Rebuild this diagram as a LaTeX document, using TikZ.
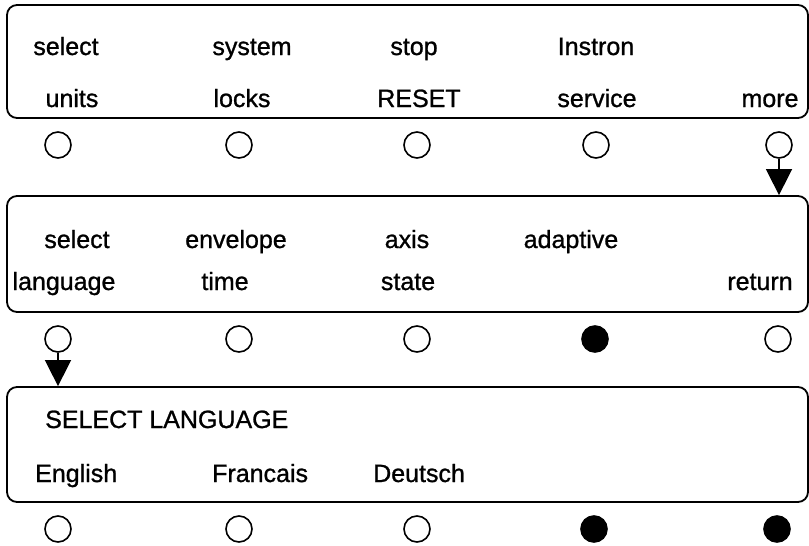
\documentclass[tikz,border=0pt]{standalone}
\usepackage{fontspec}
\setmainfont[FakeBold=1.2,AutoFakeBold=1.2]{Liberation Sans}
\newfontfamily\scanfont[FakeBold=1.0]{Liberation Sans}
\usetikzlibrary{arrows.meta}
\begin{document}
\begin{tikzpicture}[x=1pt,y=-1pt,
  panel/.style={draw,line width=1.8pt,rounded corners=10pt,minimum width=801pt,inner sep=0pt},
  lbl/.style={anchor=base,inner sep=0pt,font=\scanfont\fontsize{25}{30}\selectfont},
  lblw/.style={anchor=base west,inner sep=0pt,font=\scanfont\fontsize{25}{30}\selectfont},
  key/.style={draw,circle,line width=1.6pt,minimum size=26pt,inner sep=0pt},
  keyon/.style={key,fill=black},
  flow/.style={line width=1.6pt,-{Triangle[width=26pt,length=26pt]}}]
\useasboundingbox (0,0) rectangle (809,546);
% panels
\node[panel,minimum height=113pt] (p1) at (407.5,61.5) {};
\node[panel,minimum height=116pt] (p2) at (407.5,254) {};
\node[panel,minimum height=115pt] (p3) at (407.5,444.5) {};
% panel 1 texts
\node[lbl] (t11) at (66,55) {select};
\node[lbl] (t12) at (252,55) {system};
\node[lbl] (t13) at (414,55) {stop};
\node[lbl] (t14) at (596,55) {Instron};
\node[lbl] (u11) at (72,107) {units};
\node[lbl] (u12) at (242,107) {locks};
\node[lbl] (u13) at (419,107) {RESET};
\node[lbl] (u14) at (597,107) {service};
\node[lbl] (u15) at (770,107) {more};
% panel 2 texts
\node[lbl] (t21) at (77,248) {select};
\node[lbl] (t22) at (236,248) {envelope};
\node[lbl] (t23) at (407,248) {axis};
\node[lbl] (t24) at (571,248) {adaptive};
\node[lbl] (u21) at (64,290) {language};
\node[lbl] (u22) at (225,290) {time};
\node[lbl] (u23) at (408,290) {state};
\node[lbl] (u25) at (760,290) {return};
% panel 3 texts
\node[lblw] (t31) at (45,428) {SELECT LANGUAGE};
\node[lblw] (u31) at (35,482) {English};
\node[lblw] (u32) at (212,482) {Francais};
\node[lblw] (u33) at (373,482) {Deutsch};
% keys row 1
\node[key] (k11) at (58,145) {};
\node[key] (k12) at (239,145) {};
\node[key] (k13) at (417,145) {};
\node[key] (k14) at (596,145) {};
\node[key] (k15) at (779,145) {};
% keys row 2
\node[key] (k21) at (58,339) {};
\node[key] (k22) at (239,339) {};
\node[key] (k23) at (417,339) {};
\node[keyon] (k24) at (595,339) {};
\node[key] (k25) at (778,339) {};
% keys row 3
\node[key] (k31) at (58,529) {};
\node[key] (k32) at (239,529) {};
\node[key] (k33) at (417,529) {};
\node[keyon] (k34) at (594,529) {};
\node[keyon] (k35) at (777,529) {};
% arrows
\draw[flow] (k15.south) -- (k15.south |- p2.north);
\draw[flow] (k21.south) -- (k21.south |- p3.north);
\end{tikzpicture}
\end{document}
